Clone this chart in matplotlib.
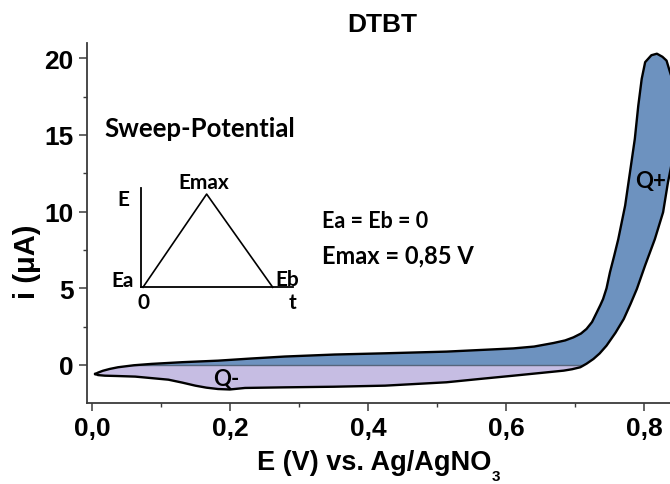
import matplotlib
matplotlib.use("Agg")
import matplotlib.pyplot as plt
from matplotlib.patches import Polygon, Rectangle
from matplotlib.ticker import MultipleLocator, FuncFormatter

# forward scan 0 -> 0.85 V
e_fwd = [0.004, 0.008, 0.015, 0.025, 0.037, 0.060, 0.086, 0.130, 0.182, 0.230,
         0.279, 0.351, 0.424, 0.513, 0.610, 0.640, 0.668, 0.685, 0.697, 0.708,
         0.716, 0.724, 0.731, 0.736, 0.740, 0.745, 0.750, 0.756, 0.762, 0.772,
         0.779, 0.786, 0.791, 0.796, 0.801, 0.810, 0.818, 0.826, 0.832, 0.837,
         0.845, 0.850]
i_fwd = [-0.59, -0.50, -0.38, -0.26, -0.15, -0.02, 0.07, 0.18, 0.28, 0.42,
         0.55, 0.68, 0.76, 0.87, 1.08, 1.20, 1.43, 1.60, 1.80, 2.05,
         2.35, 2.80, 3.44, 3.90, 4.30, 5.00, 6.05, 7.10, 8.20, 10.40,
         12.57, 14.74, 16.90, 18.66, 19.75, 20.20, 20.30, 20.10, 19.85, 19.10,
         18.00, 17.00]

# reverse scan 0.85 -> 0 V
e_rev = [0.850, 0.848, 0.843, 0.838, 0.834, 0.827, 0.815, 0.801, 0.789, 0.780,
         0.770, 0.758, 0.745, 0.735, 0.726, 0.716, 0.707, 0.695, 0.683, 0.650,
         0.610, 0.562, 0.513, 0.424, 0.350, 0.279, 0.221, 0.210, 0.199, 0.182,
         0.165, 0.149, 0.130, 0.110, 0.062, 0.035, 0.018, 0.008, 0.004]
i_rev = [17.00, 15.50, 14.00, 12.80, 11.90, 9.96, 8.20, 6.50, 4.96, 4.00,
         3.00, 2.10, 1.26, 0.75, 0.39, 0.08, -0.15, -0.28, -0.37, -0.52,
         -0.70, -0.91, -1.13, -1.35, -1.42, -1.46, -1.50, -1.55, -1.60, -1.57,
         -1.48, -1.35, -1.15, -0.96, -0.76, -0.72, -0.70, -0.66, -0.59]

x_major = 0.2
y_major = 5

blue = "#6d92bf"
lavender = "#c6bde3"
axis_col = "#3a3a3a"
ax_font = "Liberation Sans"
note_font = "Lato"

fig = plt.figure(figsize=(6.7, 4.85), dpi=100)
ax = fig.add_axes([0.1294, 0.168, 0.8706, 0.7407])
ax.set_xlim(-0.0084, 0.837)
ax.set_ylim(-2.45, 20.98)

loop_e = e_fwd + e_rev[1:]
loop_i = i_fwd + i_rev[1:]
pts = list(zip(loop_e, loop_i))

# Q+ part (above zero) and Q- part (below zero)
for col, y0, h in [(blue, 0, 50), (lavender, -50, 50)]:
    p = Polygon(pts, closed=True, facecolor=col, edgecolor="none", zorder=1)
    ax.add_patch(p)
    p.set_clip_path(Rectangle((-1, y0), 3, h, transform=ax.transData))

shape = Polygon(pts, closed=True, facecolor="none", edgecolor="none")
ax.add_patch(shape)
zl, = ax.plot([-0.05, 0.9], [0, 0], color="#56657c", lw=1.0, zorder=2)
zl.set_clip_path(shape)

ax.plot(loop_e, loop_i, color="black", lw=1.7, solid_joinstyle="round", zorder=3)

# axes styling
for s in ["top", "right"]:
    ax.spines[s].set_visible(False)
for s in ["left", "bottom"]:
    ax.spines[s].set_color(axis_col)
    ax.spines[s].set_linewidth(1.3)
ax.xaxis.set_major_locator(MultipleLocator(x_major))
ax.xaxis.set_minor_locator(MultipleLocator(x_major / 2))
ax.yaxis.set_major_locator(MultipleLocator(y_major))
ax.yaxis.set_minor_locator(MultipleLocator(y_major / 2))
ax.xaxis.set_major_formatter(FuncFormatter(lambda v, p: f"{v:.1f}".replace(".", ",")))
ax.yaxis.set_major_formatter(FuncFormatter(lambda v, p: f"{v:.0f}"))
ax.tick_params(which="major", length=5.5, width=1.1, color=axis_col, labelsize=19)
ax.tick_params(which="minor", length=3, width=1.0, color=axis_col)
ax.tick_params(axis="x", pad=4)
ax.tick_params(axis="y", pad=4)
for lab in ax.get_xticklabels() + ax.get_yticklabels():
    lab.set_fontfamily(ax_font)
    lab.set_fontweight("bold")

def px(x, y):
    return x / 670, 1 - y / 485

fig.text(*px(382, 25), "DTBT", ha="center", va="center", fontsize=19,
         family=ax_font, weight="bold")
fig.text(*px(491, 463), "E (V) vs. Ag/AgNO", ha="right", va="center",
         fontsize=19.5, family=ax_font, weight="bold")
fig.text(*px(492, 477), "3", ha="left", va="center", fontsize=11,
         family=ax_font, weight="bold")
fig.text(*px(27, 262), "i (\u03bcA)", ha="center", va="center", rotation=90,
         fontsize=21, family=ax_font, weight="bold")

# annotations
fig.text(*px(104, 129), "Sweep-Potential", ha="left", va="center", fontsize=18.5,
         family=note_font, weight="bold")
fig.text(*px(322, 222), "Ea = Eb = 0", ha="left", va="center", fontsize=15.5,
         family=note_font, weight="bold")
fig.text(*px(322, 256), "Emax = 0,85 V", ha="left", va="center", fontsize=17,
         family=note_font, weight="bold")
ax.text(0.809, 12.0, "Q+", ha="center", va="center", fontsize=16,
        family=note_font, weight="bold", zorder=4)
ax.text(0.194, -0.9, "Q-", ha="center", va="center", fontsize=16,
        family=note_font, weight="bold", zorder=4)

# sweep schematic
ins = fig.add_axes([0.21, 0.4056, 0.2273, 0.204], facecolor="none")
ins.set_xlim(0, 1)
ins.set_ylim(0, 1)
ins.set_xticks([])
ins.set_yticks([])
for s in ["top", "right"]:
    ins.spines[s].set_visible(False)
for s in ["left", "bottom"]:
    ins.spines[s].set_linewidth(1.3)
ins.plot([0.015, 0.433, 0.867], [0, 0.942, 0], color="black", lw=1.2, clip_on=False)
kw = dict(ha="center", va="center", fontsize=15, family=note_font, weight="bold",
          transform=ins.transAxes, clip_on=False)
ins.text(-0.116, 0.89, "E", **kw)
ins.text(0.416, 1.06, "Emax", **kw)
ins.text(-0.118, 0.07, "Ea", **kw)
ins.text(0.96, 0.08, "Eb", **kw)
ins.text(0.017, -0.15, "0", **kw)
ins.text(1.0, -0.15, "t", **kw)

fig.savefig("out.png", dpi=100)
